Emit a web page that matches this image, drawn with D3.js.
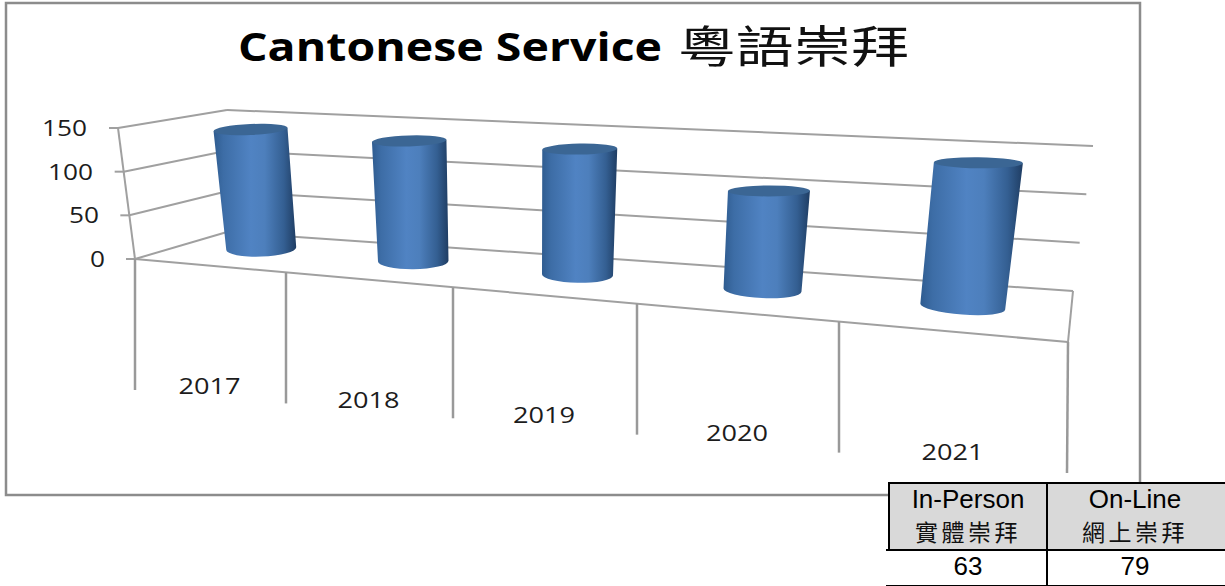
<!DOCTYPE html>
<html>
<head>
<meta charset="utf-8">
<script src="https://cdn.jsdelivr.net/npm/d3@7"></script>
<style>
  html, body { margin: 0; padding: 0; background: #fff; }
</style>
</head>
<body>
<div id="chart"></div>
<script>
const years = ["2017", "2018", "2019", "2020", "2021"];
const attendance = [140, 135, 135, 102, 142];
const valueTicks = [0, 50, 100, 150];
const titleLatin = "Cantonese Service";
const titleCjk = "粵語崇拜";
const tableHeads = ["In-Person", "On-Line"];
const tableHeadsCjk = ["實體崇拜", "網上崇拜"];
const tableValues = [63, 79];

const svg = d3.select("#chart").append("svg")
  .attr("width", 1225).attr("height", 586)
  .style("display", "block");

const gridColor = "#a0a0a0";
const dropColor = "#999999";
const textColor = "#1c1c1c";
const wideFont = "'Open Sans', sans-serif";
const cjkFont = "'Noto Sans CJK TC', sans-serif";
const armFont = "'Liberation Sans', Arial, sans-serif";

const defs = svg.append("defs");
const grad = defs.append("linearGradient").attr("id", "cyl");
[[0, "#2f5c90"], [0.12, "#3d6da6"], [0.45, "#5083c3"], [0.62, "#4d7fbc"], [0.85, "#345f92"], [1, "#1f3d63"]]
  .forEach(s => grad.append("stop").attr("offset", s[0]).attr("stop-color", s[1]));

// chart frame
svg.append("rect")
  .attr("x", 6).attr("y", 3).attr("width", 1134).attr("height", 492)
  .attr("fill", "#fff").attr("stroke", "#8c8c8c").attr("stroke-width", 2.5);

// title
const title = svg.append("g");
title.append("text")
  .attr("x", 238).attr("y", 61)
  .attr("font-family", wideFont).attr("font-weight", 700)
  .attr("font-size", 39).attr("fill", "#000")
  .attr("textLength", 424).attr("lengthAdjust", "spacingAndGlyphs")
  .text(titleLatin);
title.append("text")
  .attr("x", 678).attr("y", 63)
  .attr("font-family", cjkFont)
  .attr("font-size", 44).attr("fill", "#111")
  .attr("textLength", 231).attr("lengthAdjust", "spacingAndGlyphs")
  .text(titleCjk);

// floor edges, category position 0..5 is not even because of the perspective
const cats = d3.range(6);
const frontX = d3.scaleLinear().domain(cats).range([135, 286, 453, 637, 839, 1068]);
const frontY = d3.scaleLinear().domain([135, 1068]).range([259, 342]);
const backX = d3.scaleLinear().domain([0, 0.5, 1.5, 2.5, 3.5, 4.5, 5]).range([227, 312, 457, 610, 787, 972, 1073]);
const backY = d3.scaleLinear().domain([227, 1073]).range([232, 291]);

function floorPoint(c, depth) {
  const fx = frontX(c), bx = backX(c);
  return [fx + (bx - fx) * depth, frontY(fx) + (backY(bx) - frontY(fx)) * depth];
}

// wall edges
const v = d3.scaleLinear().domain([0, 150]);
const leftFrontX = v.copy().range([135, 118]);
const leftFrontY = v.copy().range([259, 128]);
const leftBackX = v.copy().range([227, 227]);
const leftBackY = v.copy().range([232, 110]);
const rightBackX = v.copy().range([1073, 1093]);
const rightBackY = v.copy().range([291, 146]);

function line(g, x1, y1, x2, y2, color, w) {
  g.append("line")
    .attr("x1", x1).attr("y1", y1).attr("x2", x2).attr("y2", y2)
    .attr("stroke", color).attr("stroke-width", w);
}

const walls = svg.append("g");
valueTicks.forEach(t => {
  line(walls, leftFrontX(t) - 9, leftFrontY(t), leftFrontX(t), leftFrontY(t), gridColor, 2);
  line(walls, leftFrontX(t), leftFrontY(t), leftBackX(t), leftBackY(t), gridColor, 2);
  line(walls, leftBackX(t), leftBackY(t), rightBackX(t), rightBackY(t), gridColor, 2);
});
line(walls, leftFrontX(0), leftFrontY(0), leftFrontX(150), leftFrontY(150), gridColor, 2);

// floor front and side, drop lines for the categories
line(walls, frontX(0), frontY(frontX(0)), frontX(5), frontY(frontX(5)), gridColor, 2);
line(walls, frontX(5), frontY(frontX(5)), rightBackX(0), rightBackY(0), gridColor, 2);
cats.forEach(c => {
  const x = frontX(c), y = frontY(x);
  line(walls, x, y, x - (c === 5 ? 1 : 0), y + 131, dropColor, 2.5);
});

// cylinders
const barHeight = d3.scaleLinear().domain([0, 5]).range([124.5, 155]);
const barTilt = d3.scaleLinear().domain([0, 5]).range([-15, 20]);
const barRx = d3.scaleLinear().domain([0.5, 2.5, 4.5]).range([35, 35.5, 42.5]);
const baseRotate = d3.scaleLinear().domain([0, 5]).range([-3, 5]);
const topRotate = d3.scaleLinear().domain([0, 5]).range([-3, 1]);
const barLift = d3.scaleLinear().domain([0, 5]).range([3.5, 1]);

const bars = svg.append("g").selectAll("g").data(attendance).enter().append("g")
  .each(function (d, i) {
    const c = i + 0.5;
    const floor = floorPoint(c, 0.5);
    const base = [floor[0], floor[1] - barLift(c)];
    const top = [base[0] + barTilt(c) * d / 150, base[1] - barHeight(c) * d / 150];
    const rx = barRx(c), rxTop = rx + 2, ryTop = 5.5, ryBase = 8;
    const rot = baseRotate(c), rotTop = topRotate(c);
    const p = (o, r, deg) => [o[0] + r * Math.cos(deg * Math.PI / 180), o[1] + r * Math.sin(deg * Math.PI / 180)];
    const tl = p(top, -rxTop, rotTop), tr = p(top, rxTop, rotTop);
    const bl = p(base, -rx, rot), br = p(base, rx, rot);
    const g = d3.select(this);
    g.append("path")
      .attr("d", `M${tl} L${bl} A${rx},${ryBase} ${rot} 0 0 ${br} L${tr} Z`)
      .attr("fill", "url(#cyl)");
    g.append("ellipse")
      .attr("rx", rxTop).attr("ry", ryTop)
      .attr("transform", `translate(${top}) rotate(${rotTop})`)
      .attr("fill", "#3b6694");
  });

// value labels
const tickLabels = svg.append("g");
const tickWidths = { 0: 15, 50: 30, 100: 45, 150: 45 };
const tickRight = v.copy().range([105, 87]);
valueTicks.forEach(t => {
  tickLabels.append("text")
    .attr("x", tickRight(t) - tickWidths[t]).attr("y", leftFrontY(t) + 8)
    .attr("font-family", wideFont).attr("font-size", 21).attr("fill", textColor)
    .attr("textLength", tickWidths[t]).attr("lengthAdjust", "spacingAndGlyphs")
    .text(t);
});

// year labels
svg.append("g").selectAll("text").data(years).enter().append("text")
  .attr("x", (d, i) => (frontX(i) + frontX(i + 1)) / 2 - 32)
  .attr("y", (d, i) => frontY(frontX(i + 0.5)) + 128)
  .attr("font-family", wideFont).attr("font-size", 21).attr("fill", textColor)
  .attr("textLength", 62).attr("lengthAdjust", "spacingAndGlyphs")
  .text(d => d);

// table under the chart
const colEdges = [889, 1047, 1225];
const table = svg.append("g");
table.append("rect").attr("x", 889).attr("y", 483).attr("width", 336).attr("height", 67).attr("fill", "#d9d9d9");
table.append("rect").attr("x", 889).attr("y", 550).attr("width", 336).attr("height", 36).attr("fill", "#fff");
line(table, 888, 483, 1225, 483, "#000", 2);
line(table, 886, 550, 1225, 550, "#000", 2);
line(table, 886, 585.5, 1225, 585.5, "#000", 1);
line(table, 889, 482, 889, 551, "#000", 2);
line(table, 1047, 482, 1047, 586, "#000", 2);
tableHeads.forEach((h, i) => {
  const cx = (colEdges[i] + colEdges[i + 1]) / 2 - (i ? 1 : 0);
  table.append("text").attr("x", cx).attr("y", 508).attr("text-anchor", "middle")
    .attr("font-family", armFont).attr("font-size", 26).attr("fill", "#000").text(h);
  table.append("text").attr("x", cx).attr("y", 541).attr("text-anchor", "middle")
    .attr("font-family", cjkFont).attr("font-size", 23).attr("letter-spacing", 3.5).attr("fill", "#111")
    .text(tableHeadsCjk[i]);
  table.append("text").attr("x", cx).attr("y", 575).attr("text-anchor", "middle")
    .attr("font-family", armFont).attr("font-size", 26).attr("fill", "#000").text(tableValues[i]);
});
</script>
</body>
</html>
